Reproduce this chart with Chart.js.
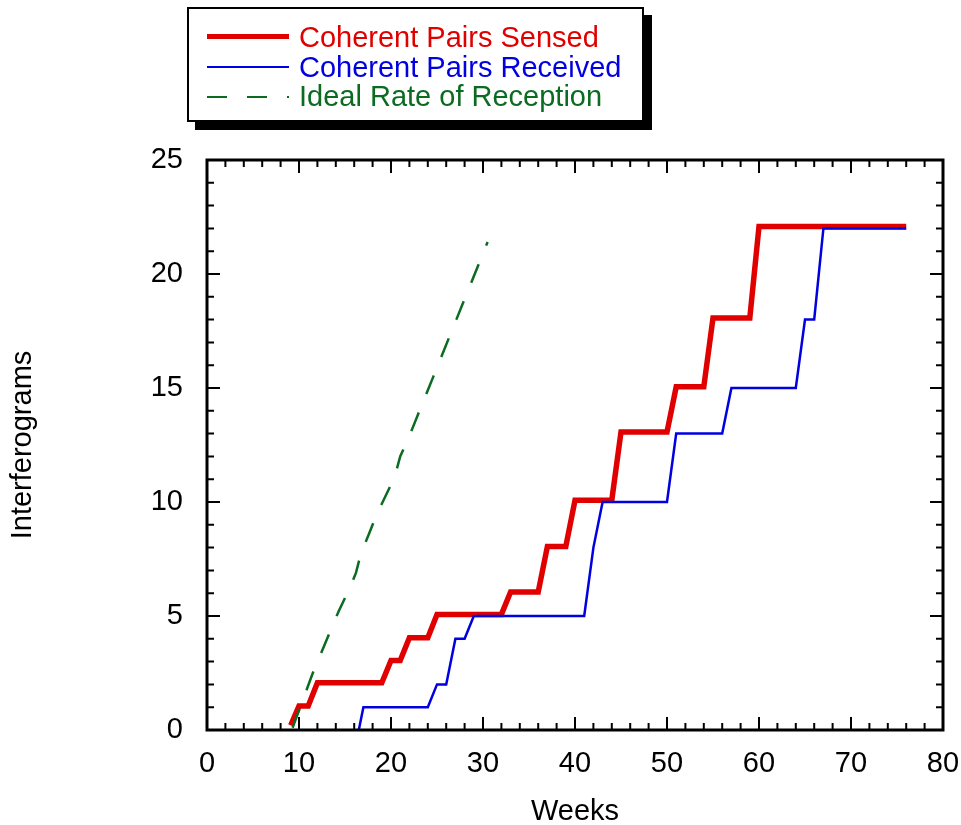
<!DOCTYPE html>
<html>
<head>
<meta charset="utf-8">
<title>Coherent Pairs vs Weeks</title>
<script src="https://cdn.jsdelivr.net/npm/chart.js@4.4.1/dist/chart.umd.min.js"></script>
<style>
  body { margin: 0; background: #fff; font-family: "Liberation Sans", Arial, sans-serif; }
  #wrap { position: relative; width: 961px; height: 825px; }
  #chart { position: absolute; left: 0; top: 0; }
  .lg-box { position: absolute; left: 187px; top: 7px; width: 457px; height: 115px; box-sizing: border-box;
            border: 2px solid #000; background: #fff; box-shadow: 8px 8px 0 #000; }
  .lg-line { position: absolute; left: 207px; width: 82px; }
  .lg-text { position: absolute; left: 299px; font-size: 29px; line-height: 29px; white-space: nowrap; }
</style>
</head>
<body>
<div id="wrap">
  <canvas id="chart" width="961" height="825"></canvas>
  <div class="lg-box"></div>
  <div class="lg-line" style="top:34px;height:5px;background:#e00000"></div>
  <div class="lg-text" style="top:23px;color:#e00000">Coherent Pairs Sensed</div>
  <div class="lg-line" style="top:66px;height:2px;background:#0000e0"></div>
  <div class="lg-text" style="top:53px;color:#0000e0">Coherent Pairs Received</div>
  <div class="lg-line" style="top:96px;height:2px;background:repeating-linear-gradient(to right,#0b6b21 0 20px,transparent 20px 40px)"></div>
  <div class="lg-text" style="top:82px;color:#0b6b21">Ideal Rate of Reception</div>
</div>
<script>
// Data
const sensedWeeks  = [9.1, 10, 11, 12, 19, 20, 21, 22, 24, 25, 32, 33, 36, 37, 39, 40, 44, 45, 50, 51, 54, 55, 59, 60, 76];
const sensedPairs  = [0.2, 1.05, 1.05, 2.07, 2.07, 3.05, 3.05, 4.05, 4.05, 5.07, 5.07, 6.05, 6.05, 8.05, 8.05, 10.08, 10.08, 13.07, 13.07, 15.05, 15.05, 18.07, 18.07, 22.08, 22.08];

const receivedWeeks = [16.5, 17, 24, 25, 26, 27, 28, 29, 41, 42, 43, 50, 51, 56, 57, 64, 65, 66, 67, 76];
const receivedPairs = [0, 1, 1, 2, 2, 4, 4, 5, 5, 8, 10, 10, 13, 13, 15, 15, 18, 18, 22, 22];

const idealWeeks = [9.3, 11.5, 14.3, 15.6, 16.2, 16.7, 17.6, 18.5, 20.4, 21.0, 22.0, 24.6, 27.1, 29.7, 30.5];
const idealPairs = [0.1, 2.5, 5.2, 6.3, 6.9, 7.7, 8.6, 9.5, 11.1, 12.0, 12.9, 15.5, 18.0, 20.6, 21.4];

const xTicks = [0, 10, 20, 30, 40, 50, 60, 70, 80];
const yTicks = [0, 5, 10, 15, 20, 25];

function toPoints(xs, ys) {
  return xs.map((x, i) => ({ x: x, y: ys[i] }));
}

// Frame with inward ticks on all four sides
const framePlugin = {
  id: 'frame',
  afterDatasetsDraw(chart) {
    const { ctx, chartArea: a, scales: { x, y } } = chart;
    ctx.save();
    ctx.strokeStyle = '#000';
    ctx.lineWidth = 2;
    ctx.beginPath();
    for (let w = x.min; w <= x.max; w += 2) {
      const px = x.getPixelForValue(w);
      const len = w % 10 === 0 ? 13 : 7;
      ctx.moveTo(px, a.bottom); ctx.lineTo(px, a.bottom - len);
      ctx.moveTo(px, a.top); ctx.lineTo(px, a.top + len);
    }
    for (let v = y.min; v <= y.max; v += 1) {
      const py = y.getPixelForValue(v);
      const len = v % 5 === 0 ? 13 : 7;
      ctx.moveTo(a.left, py); ctx.lineTo(a.left + len, py);
      ctx.moveTo(a.right, py); ctx.lineTo(a.right - len, py);
    }
    ctx.stroke();
    ctx.lineWidth = 3;
    ctx.strokeRect(a.left, a.top, a.right - a.left, a.bottom - a.top);
    ctx.restore();
  }
};

Chart.defaults.font.family = "'Liberation Sans', Arial, sans-serif";
Chart.defaults.color = '#000';

new Chart(document.getElementById('chart'), {
  type: 'line',
  data: {
    datasets: [
      {
        label: 'Ideal Rate of Reception',
        data: toPoints(idealWeeks, idealPairs),
        borderColor: '#0b6b21',
        borderWidth: 2.5,
        borderDash: [20, 20],
        pointRadius: 0,
        order: 0
      },
      {
        label: 'Coherent Pairs Received',
        data: toPoints(receivedWeeks, receivedPairs),
        borderColor: '#0000e0',
        borderWidth: 2.5,
        pointRadius: 0,
        order: 1
      },
      {
        label: 'Coherent Pairs Sensed',
        data: toPoints(sensedWeeks, sensedPairs),
        borderColor: '#e00000',
        borderWidth: 5.5,
        pointRadius: 0,
        order: 2
      }
    ]
  },
  options: {
    responsive: false,
    animation: false,
    layout: { padding: { top: 160, right: 18, left: 0, bottom: 0 } },
    plugins: { legend: { display: false }, tooltip: { enabled: false } },
    scales: {
      x: {
        type: 'linear',
        min: 0, max: 80,
        afterBuildTicks: s => { s.ticks = xTicks.map(v => ({ value: v })); },
        afterFit: s => { s.height = 95; s.paddingLeft = 0; s.paddingRight = 0; },
        ticks: { font: { size: 29 }, padding: 17, maxRotation: 0 },
        grid: { display: false, drawTicks: false },
        border: { display: false },
        title: { display: true, text: 'Weeks', font: { size: 29 }, padding: { top: 0, bottom: -4 } }
      },
      y: {
        type: 'linear',
        min: 0, max: 25,
        afterBuildTicks: s => { s.ticks = yTicks.map(v => ({ value: v })); },
        afterFit: s => { s.width = 207; s.paddingTop = 0; s.paddingBottom = 0; },
        ticks: { font: { size: 29 }, padding: 24 },
        grid: { display: false, drawTicks: false },
        border: { display: false },
        title: { display: true, text: 'Interferograms', font: { size: 29 }, padding: { top: 6, bottom: 0 } }
      }
    }
  },
  plugins: [framePlugin]
});
</script>
</body>
</html>
